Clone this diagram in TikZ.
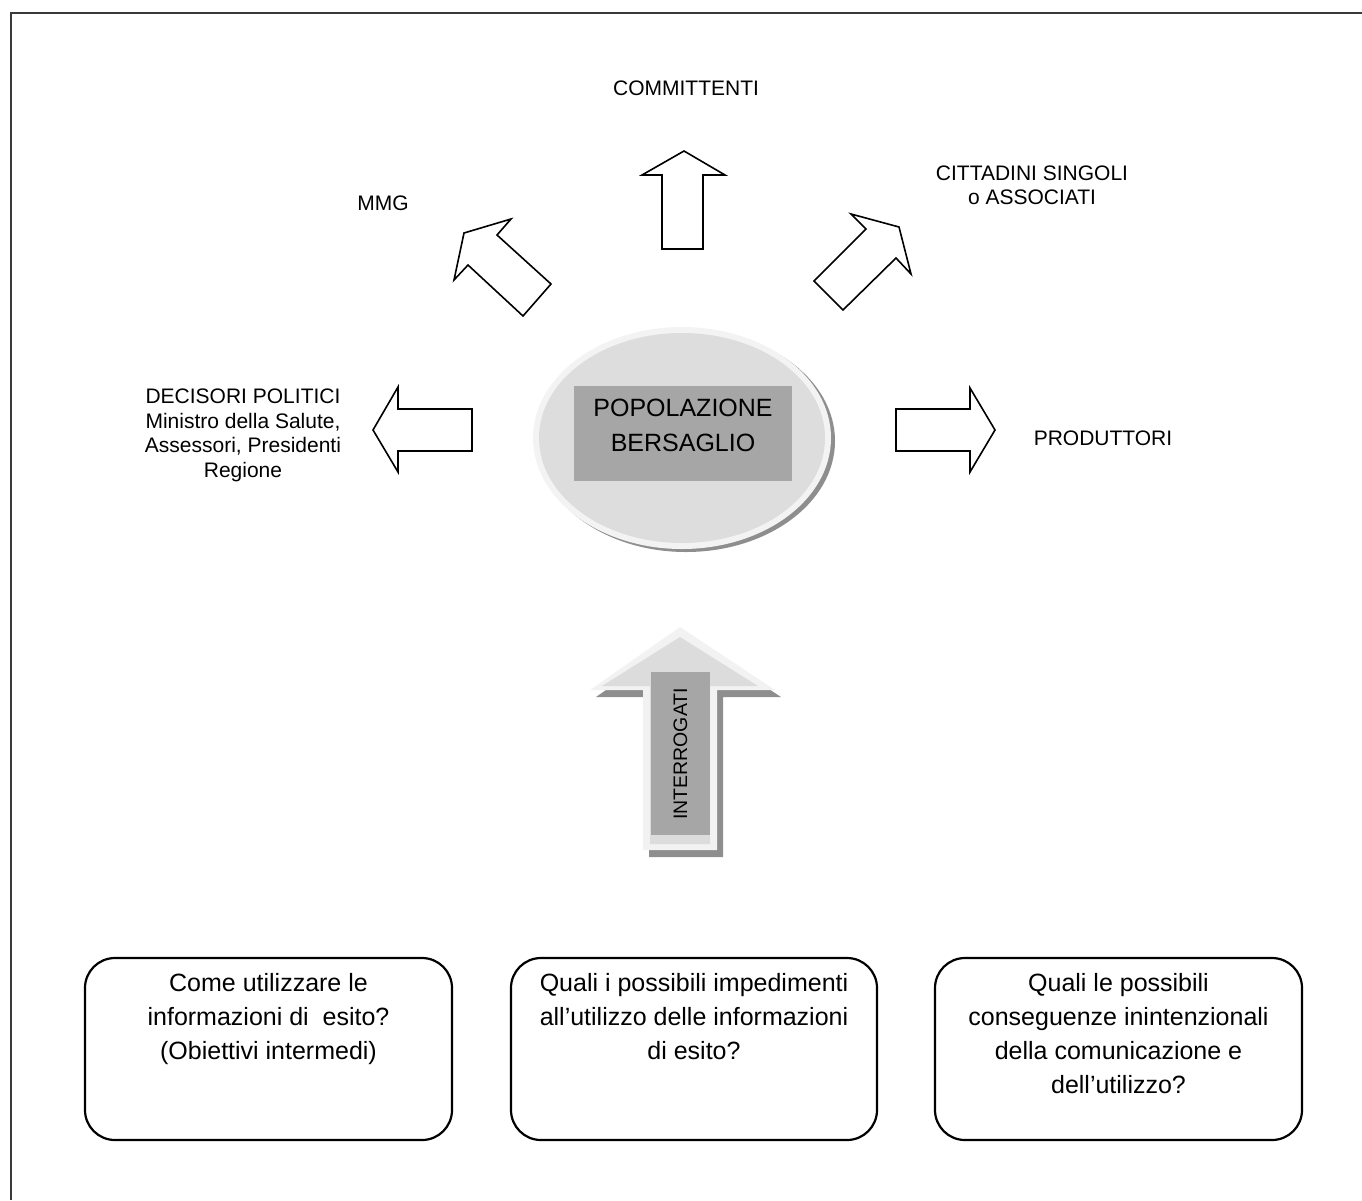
\documentclass[tikz,border=0pt]{standalone}
\usepackage{fontspec}
\setmainfont{Liberation Sans}
\definecolor{framecol}{HTML}{3A3A3A}
\definecolor{ovalrim}{HTML}{F3F3F3}
\definecolor{ovalfill}{HTML}{DDDDDD}
\definecolor{ovalshadow}{HTML}{8E8E8E}
\definecolor{labelbox}{HTML}{A6A6A6}
\definecolor{arrowrim}{HTML}{F2F2F2}
\definecolor{arrowfill}{HTML}{DCDCDC}
\begin{document}
\begin{tikzpicture}[x=1pt,y=-1pt,
  lbl/.style={font=\fontsize{21}{24.5}\selectfont, align=center, inner sep=0pt},
  blockarrow/.style={draw=black, line width=1.6pt, fill=white, line join=miter},
  qbox/.style={draw=black, line width=2.2pt, rounded corners=30pt},
  qtext/.style={font=\fontsize{25}{34}\selectfont, align=center, inner sep=0pt, anchor=north},
]
\useasboundingbox (0,0) rectangle (1362,1200);

% page frame (top and left edges)
\draw[line width=2pt, framecol] (1362,13) -- (11,13) -- (11,1200);

% central oval with shadow
\fill[ovalshadow] (686,441) ellipse [x radius=149, y radius=111];
\fill[ovalrim] (682,438) ellipse [x radius=149, y radius=111];
\fill[ovalfill] (682,438) ellipse [x radius=143, y radius=105];
\node[fill=labelbox, minimum width=218pt, minimum height=95pt, inner sep=0pt]
  (popbox) at (683,433.5) {};
\node[font=\fontsize{25}{35}\selectfont, align=center, inner sep=0pt]
  (pop) at (683,425.5) {POPOLAZIONE\\BERSAGLIO};

% outgoing block arrows
\draw[blockarrow] (684,151) -- (725,175) -- (703,175) -- (703,249)
  -- (662,249) -- (662,175) -- (642,175) -- cycle;
\draw[blockarrow] (464,233) -- (511,219) -- (497,235) -- (551,284)
  -- (523,316) -- (468,265) -- (454,280) -- cycle;
\draw[blockarrow] (899,227) -- (911,274) -- (896,258) -- (843,310)
  -- (814,281) -- (866,229) -- (851,214) -- cycle;
\draw[blockarrow] (373,430) -- (398,387) -- (398,409) -- (472,409)
  -- (472,451) -- (398,451) -- (398,472) -- cycle;
\draw[blockarrow] (995,430) -- (970,388) -- (970,409) -- (896,409)
  -- (896,451) -- (970,451) -- (970,472) -- cycle;

% labels around the oval
\node[lbl] (committenti) at (686,88) {COMMITTENTI};
\node[lbl] (mmg) at (383,203) {MMG};
\node[lbl] (cittadini) at (1032,185.5) {CITTADINI SINGOLI\\o ASSOCIATI};
\node[lbl] (decisori) at (243,435.5)
  {DECISORI POLITICI\\Ministro della Salute,\\Assessori, Presidenti\\Regione};
\node[lbl] (produttori) at (1103,438) {PRODUTTORI};

% upward shaded arrow
\fill[ovalshadow] (686,634) -- (781,697) -- (723,697) -- (723,857)
  -- (649,857) -- (649,697) -- (596,697) -- cycle;
\fill[arrowrim] (680,627) -- (775,690) -- (717,690) -- (717,850)
  -- (643,850) -- (643,690) -- (590,690) -- cycle;
\fill[arrowfill] (680,637) -- (758,686) -- (710,686) -- (710,844)
  -- (650,844) -- (650,686) -- (602,686) -- cycle;
\node[fill=labelbox, minimum width=59pt, minimum height=163pt, inner sep=0pt]
  (intbox) at (680.5,753.5) {};
\node[font=\fontsize{19.5}{24}\selectfont, rotate=90, inner sep=0pt]
  (interrogati) at (680.5,754) {INTERROGATI};

% question boxes
\draw[qbox] (85,958) rectangle (452,1140);
\draw[qbox] (511,958) rectangle (877,1140);
\draw[qbox] (935,958) rectangle (1302,1140);
\node[qtext] (q1) at (268.5,973)
  {Come utilizzare le\\informazioni di~ esito?\\(Obiettivi intermedi)};
\node[qtext] (q2) at (694,973)
  {Quali i possibili impedimenti\\all’utilizzo delle informazioni\\di esito?};
\node[qtext] (q3) at (1118.5,973)
  {Quali le possibili\\conseguenze inintenzionali\\della comunicazione e\\dell’utilizzo?};
\end{tikzpicture}
\end{document}
